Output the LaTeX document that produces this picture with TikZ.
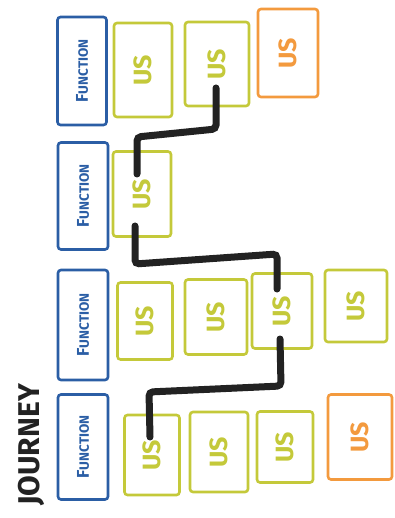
\documentclass[tikz,border=0pt]{standalone}
\usepackage{fontspec}
\setmainfont{Fira Sans}
\usetikzlibrary{positioning, calc}

\definecolor{fnblue}{HTML}{2B5EA5}
\definecolor{usgreen}{HTML}{C4C93A}
\definecolor{ushot}{HTML}{F39A3E}
\definecolor{ink}{HTML}{222222}

\begin{document}
\begin{tikzpicture}[x=1pt, y=-1pt,
    fnbox/.style={draw=fnblue, line width=2.6pt, rounded corners=3pt,
                  rotate=90, inner sep=0pt, text=fnblue,
                  font=\fontsize{13.5}{13.5}\selectfont\bfseries},
    usbox/.style={draw=usgreen, line width=2.6pt, rounded corners=3pt,
                  rotate=90, inner sep=0pt, text=usgreen,
                  font=\fontsize{25}{25}\selectfont\bfseries},
    hotbox/.style={usbox, draw=ushot, text=ushot},
    journey/.style={draw=ink, line width=7pt, rounded corners=4pt,
                    line cap=round}]

  \useasboundingbox (0,0) rectangle (394,518);

  %% ── Title ──────────────────────────────────────────────────
  \node[rotate=90, font=\fontsize{30}{30}\selectfont\bfseries, text=ink]
    (title) at (31,445) {JOURNEY};

  %% ── Row 1 ──────────────────────────────────────────────────
  \node[fnbox, minimum width=108pt, minimum height=49pt] (f1) at (82,71)
    {{\fontsize{17}{17}\selectfont F}UNCTION};
  \node[usbox, minimum width=94pt, minimum height=58pt] (u11) at (143,70) {US};
  \node[usbox, minimum width=84pt, minimum height=64pt] (u12) at (217,64) {US};
  \node[hotbox, minimum width=88pt, minimum height=60pt] (u13) at (288,53) {US};

  %% ── Row 2 ──────────────────────────────────────────────────
  \node[fnbox, minimum width=107pt, minimum height=50pt] (f2) at (83,196)
    {{\fontsize{17}{17}\selectfont F}UNCTION};
  \node[usbox, minimum width=85pt, minimum height=58pt] (u21) at (142,194) {US};

  %% ── Row 3 ──────────────────────────────────────────────────
  \node[fnbox, minimum width=110pt, minimum height=50pt] (f3) at (83,325)
    {{\fontsize{17}{17}\selectfont F}UNCTION};
  \node[usbox, minimum width=77pt, minimum height=55pt] (u31) at (145,321) {US};
  \node[usbox, minimum width=75pt, minimum height=62pt] (u32) at (216,317) {US};
  \node[usbox, minimum width=75pt, minimum height=60pt] (u33) at (282,311) {US};
  \node[usbox, minimum width=72pt, minimum height=62pt] (u34) at (356,306) {US};

  %% ── Row 4 ──────────────────────────────────────────────────
  \node[fnbox, minimum width=105pt, minimum height=50pt] (f4) at (83,447)
    {{\fontsize{17}{17}\selectfont F}UNCTION};
  \node[usbox, minimum width=80pt, minimum height=55pt] (u41) at (152,455) {US};
  \node[usbox, minimum width=80pt, minimum height=58pt] (u42) at (219,452) {US};
  \node[usbox, minimum width=71pt, minimum height=56pt] (u43) at (285,447) {US};
  \node[hotbox, minimum width=85pt, minimum height=64pt] (u44) at (360,437) {US};

  %% ── Journey path ───────────────────────────────────────────
  \draw[journey] ($(u12)+(-1,24)$) -- ++(0,41)
    -- ($(u21)+(-5,-57)$) -- ($(u21)+(-5,-20)$);
  \draw[journey] ($(u21)+(-7,32)$) -- ++(0,38)
    -- ($(u33)+(-5,-57)$) -- ($(u33)+(-5,-22)$);
  \draw[journey] ($(u33)+(-2,28)$) -- ++(1,47)
    -- ($(u41)+(-3,-63)$) -- ($(u41)+(-2,-18)$);

\end{tikzpicture}
\end{document}
